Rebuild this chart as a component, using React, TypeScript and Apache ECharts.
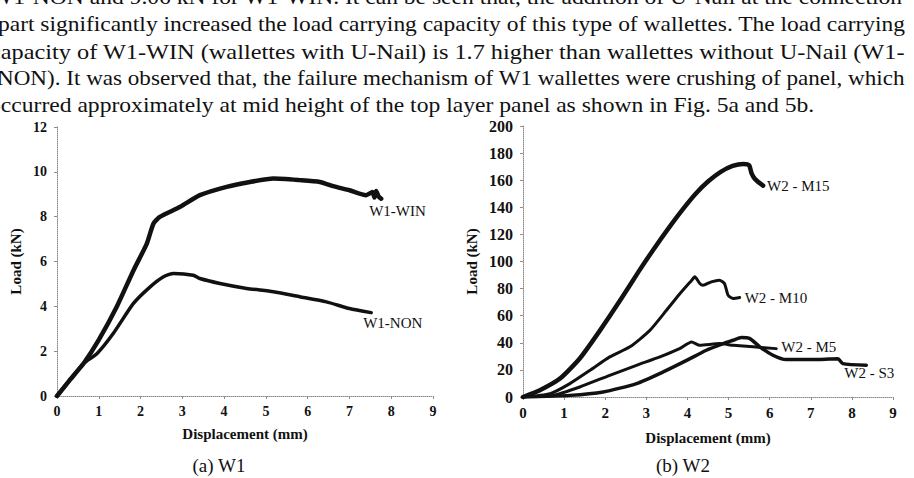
import React, { useEffect, useRef } from "react";
import * as echarts from "echarts";

// ---------- text ----------
const paragraphLines = [
  "W1-NON and 9.06 kN for W1-WIN. It can be seen that, the addition of U-Nail at the connection",
  "part significantly increased the load carrying capacity of this type of wallettes. The load carrying",
  "capacity of W1-WIN (wallettes with U-Nail) is 1.7 higher than wallettes without U-Nail (W1-",
  "NON). It was observed that, the failure mechanism of W1 wallettes were crushing of panel, which",
  "occurred approximately at mid height of the top layer panel as shown in Fig. 5a and 5b.",
];
const captions = ["(a) W1", "(b) W2"];
const xAxisTitle = "Displacement (mm)";
const yAxisTitle = "Load (kN)";

// ---------- data: W1 ----------
const w1WinDisp = [0, 0.3, 0.64, 1.0, 1.43, 1.83, 2.15, 2.31, 2.47, 2.95, 3.42, 4.06, 4.62, 5.18, 5.81, 6.29, 6.61, 7.0, 7.4, 7.55, 7.6, 7.64, 7.7, 7.76];
const w1WinLoad = [0, 0.7, 1.46, 2.5, 3.98, 5.6, 6.8, 7.7, 8.0, 8.44, 8.96, 9.33, 9.55, 9.7, 9.63, 9.55, 9.36, 9.18, 8.96, 9.1, 8.85, 9.15, 8.9, 8.8];
const w1NonDisp = [0, 0.3, 0.64, 0.96, 1.35, 1.83, 2.23, 2.55, 2.79, 3.26, 3.42, 3.9, 4.54, 5.18, 5.81, 6.45, 7.0, 7.52];
const w1NonLoad = [0, 0.7, 1.46, 1.9, 2.8, 4.13, 4.87, 5.32, 5.47, 5.39, 5.24, 5.02, 4.8, 4.65, 4.43, 4.2, 3.9, 3.72];

// ---------- data: W2 ----------
const m15Disp = [0, 0.41, 0.9, 1.38, 1.87, 2.4, 2.8, 3.2, 3.6, 3.9, 4.2, 4.5, 4.8, 5.1, 5.36, 5.5, 5.56, 5.64, 5.84];
const m15Load = [0, 5, 13.6, 28.4, 49, 73, 92, 110, 127, 139, 150, 159, 166, 170.5, 172, 171, 165, 161, 156];
const m10Disp = [0, 0.66, 1.14, 1.63, 2.11, 2.6, 3.08, 3.49, 3.81, 4.1, 4.18, 4.3, 4.38, 4.58, 4.78, 4.9, 4.99, 5.11, 5.27];
const m10Load = [0, 2.5, 9.9, 19.7, 29.6, 37, 49, 64, 76, 86, 88.7, 83.8, 82.5, 85, 86.2, 83.8, 75, 72.7, 73.4];
const m5Disp = [0, 0.74, 1.38, 2.11, 2.76, 3.33, 3.81, 4.1, 4.3, 4.78, 5.11, 5.6, 6.16];
const m5Load = [0, 1.2, 7.4, 16, 23.4, 29.6, 35.7, 40.6, 38.2, 39.4, 38.2, 37, 35.7];
const s3Disp = [0, 1.14, 1.95, 2.76, 3.41, 3.98, 4.46, 4.87, 5.11, 5.31, 5.52, 5.76, 6.08, 6.4, 7.21, 7.66, 7.78, 8.35];
const s3Load = [0, 1.2, 3.7, 9.9, 18.5, 27, 34.5, 39.4, 41.9, 43.9, 43.1, 37, 30.8, 27.6, 27.6, 28.3, 24.6, 23.4];

const FONT = "'Liberation Serif', 'Times New Roman', serif";
const INK = "#111";

export default function App() {
  const ref = useRef<HTMLDivElement>(null);

  useEffect(() => {
    const el = ref.current;
    if (!el) return;
    const chart = echarts.init(el, null, { renderer: "svg" });

    // paragraph layout (justified lines stretched to the column width)
    const pSize = 22;
    const lineLeft = [-9, -2, -10, -3, -11];
    const lineRight = [903, 906, 905, 905];
    const lineCenter = [-3.4, 23.6, 51.1, 78.1, 104.6];
    const canvas = document.createElement("canvas");
    const ctx = canvas.getContext("2d");
    let widths = paragraphLines.map((t) => t.length * pSize * 0.42);
    if (ctx) {
      ctx.font = `${pSize}px 'Liberation Serif'`;
      widths = paragraphLines.map((t) => ctx.measureText(t).width);
    }
    const just = lineRight.map((r, i) => (r - lineLeft[i]) / widths[i]);
    const avg = just.reduce((a, b) => a + b, 0) / just.length;
    const scales = [...just, avg];

    const paragraph = paragraphLines.map((t, i) => ({
      type: "text",
      x: lineLeft[i],
      y: lineCenter[i],
      scaleX: scales[i],
      silent: true,
      style: {
        text: t,
        fontFamily: FONT,
        fontSize: pSize,
        fill: INK,
        align: "left",
        verticalAlign: "middle",
      },
    }));

    const captionGraphics = [
      { x: 219, y: 465, text: captions[0] },
      { x: 683, y: 465, text: captions[1] },
    ].map((c) => ({
      type: "text",
      x: c.x,
      y: c.y,
      silent: true,
      style: {
        text: c.text,
        fontFamily: FONT,
        fontSize: 19,
        fill: INK,
        align: "center",
        verticalAlign: "middle",
      },
    }));

    const axisLine = { show: true, lineStyle: { color: "#8c8c8c", width: 1, type: "dotted" } };
    const axisTick = { show: true, length: 3, lineStyle: { color: "#8c8c8c" } };
    const nameTextStyle = { color: INK, fontFamily: FONT, fontSize: 15, fontWeight: "bold" };

    const mkX = (gridIndex: number, nameGap: number, fs: number) => ({
      type: "value",
      gridIndex,
      min: 0,
      max: 9,
      interval: 1,
      name: xAxisTitle,
      nameLocation: "middle",
      nameGap,
      nameTextStyle,
      axisLine,
      axisTick,
      axisLabel: { color: INK, fontFamily: FONT, fontSize: fs, fontWeight: "bold", margin: 8 },
      splitLine: { show: false },
    });
    const mkY = (gridIndex: number, max: number, interval: number, nameGap: number, fs: number) => ({
      type: "value",
      gridIndex,
      min: 0,
      max,
      interval,
      name: yAxisTitle,
      nameLocation: "middle",
      nameRotate: 90,
      nameGap,
      nameTextStyle,
      axisLine,
      axisTick,
      axisLabel: { color: INK, fontFamily: FONT, fontSize: fs, fontWeight: "bold", margin: 10 },
      splitLine: { show: false },
    });

    const mkLine = (
      name: string,
      xs: number[],
      ys: number[],
      axis: number,
      width: number,
      offset: number[]
    ) => ({
      type: "line",
      name,
      xAxisIndex: axis,
      yAxisIndex: axis,
      data: xs.map((x, i) => [x, ys[i]]),
      showSymbol: false,
      symbol: "none",
      smooth: 0.2,
      silent: true,
      lineStyle: { color: INK, width, cap: "round", join: "round" },
      endLabel: {
        show: true,
        formatter: name,
        color: INK,
        fontFamily: FONT,
        fontSize: 15,
        distance: 0,
        offset,
      },
    });

    chart.setOption({
      animation: false,
      backgroundColor: "#fff",
      grid: [
        { left: 57, top: 127, width: 376, height: 269 },
        { left: 523, top: 126, width: 370, height: 271 },
      ],
      xAxis: [mkX(0, 30, 14), mkX(1, 33, 15)],
      yAxis: [mkY(0, 12, 2, 34, 14), mkY(1, 200, 20, 44, 16)],
      series: [
        mkLine("W1-WIN", w1WinDisp, w1WinLoad, 0, 4.5, [-12, 12]),
        mkLine("W1-NON", w1NonDisp, w1NonLoad, 0, 3.5, [-8, 10]),
        mkLine("W2 - M15", m15Disp, m15Load, 1, 4.5, [4, 0]),
        mkLine("W2 - M10", m10Disp, m10Load, 1, 3, [5, 0]),
        mkLine("W2 - M5", m5Disp, m5Load, 1, 3, [5, -2]),
        mkLine("W2 - S3", s3Disp, s3Load, 1, 3.5, [-22, 8]),
      ],
      graphic: [...paragraph, ...captionGraphics],
    });

    return () => chart.dispose();
  }, []);

  return (
    <div
      ref={ref}
      style={{ position: "absolute", left: 0, top: 0, width: 914, height: 478, background: "#fff" }}
    />
  );
}
